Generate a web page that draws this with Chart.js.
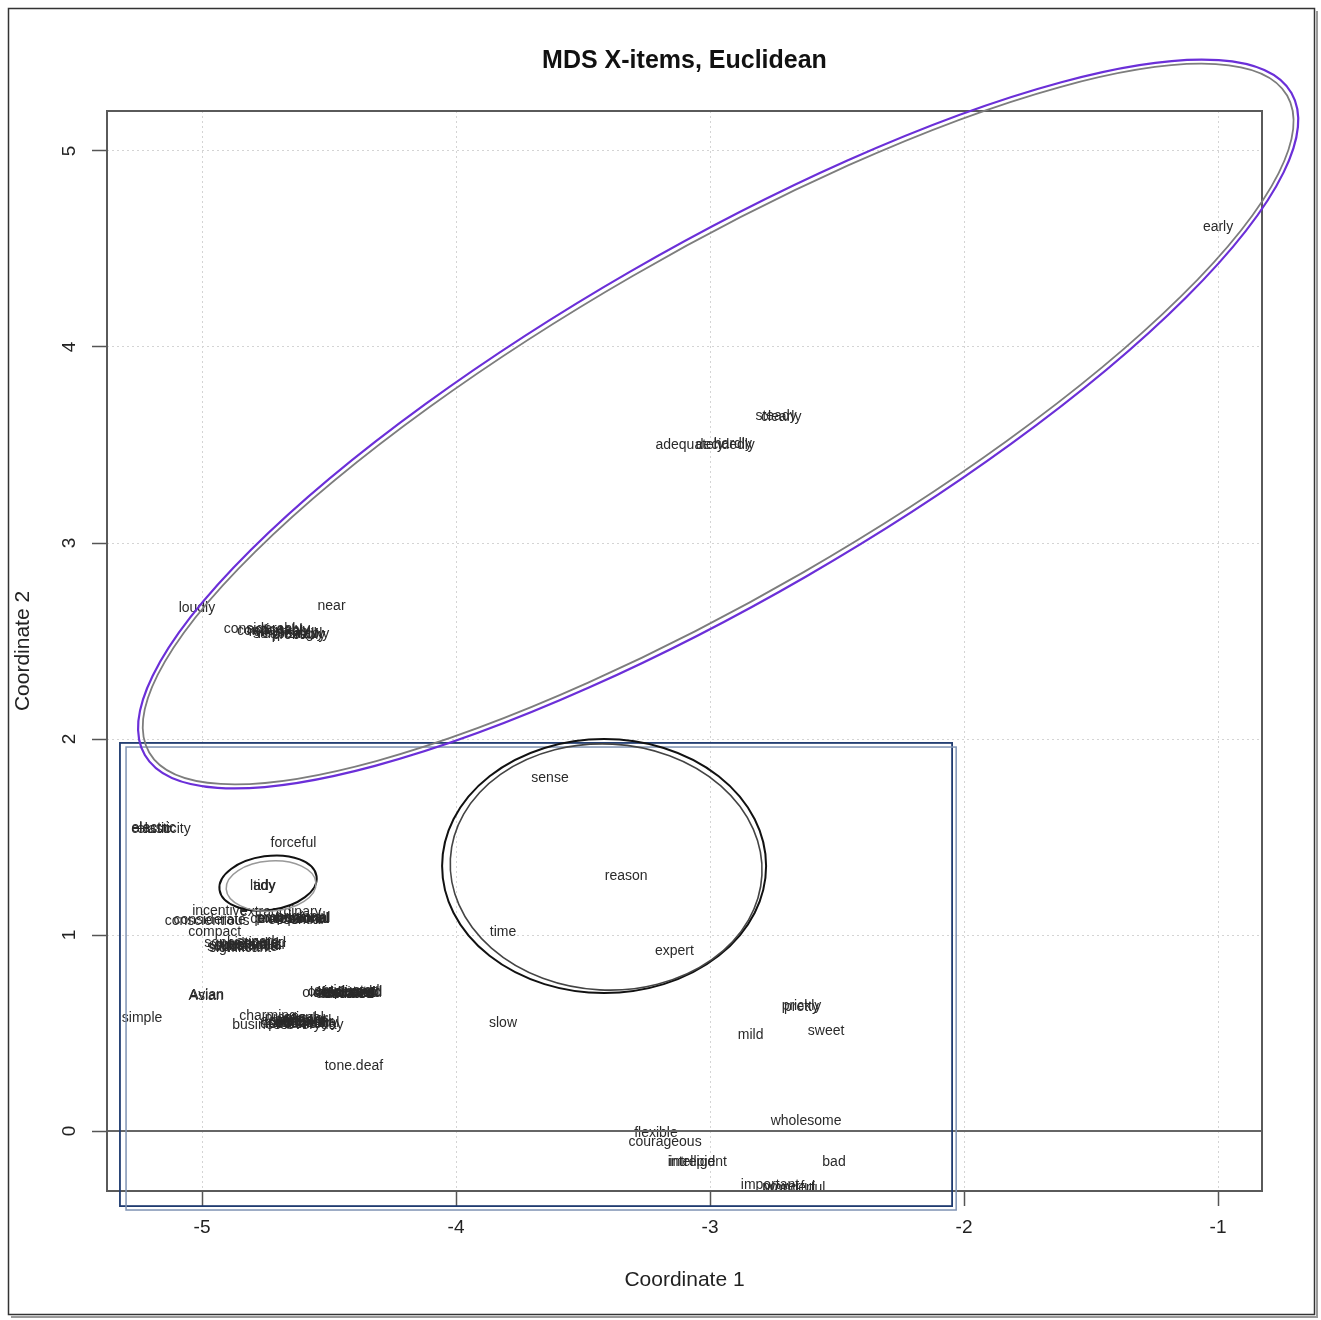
<!DOCTYPE html>
<html>
<head>
<meta charset="utf-8">
<script src="https://cdn.jsdelivr.net/npm/chart.js@4.4.0/dist/chart.umd.min.js"></script>
<style>
  html, body { margin: 0; padding: 0; background: #fff; }
  #wrap { width: 1321px; height: 1320px; }
</style>
</head>
<body>
<div id="wrap"><canvas id="mds"></canvas></div>
<script>
// words and their MDS coordinates
const words = [
  'early', 'clearly', 'steady', 'adequately', 'decidedly', 'hardly',
  'loudly', 'near', 'considerably', 'noticeably', 'surprisingly', 'probably', 'remarkably',
  'comfortably', 'respectably',
  'sense', 'reason', 'time', 'expert', 'slow',
  'elasticity', 'elastic', 'electric', 'forceful', 'lady', 'tidy',
  'incentive', 'conscientious', 'considerate', 'compact',
  'sophisticated', 'significant', 'spectacular', 'superb', 'substantial', 'splendid',
  'stupendous', 'substantive',
  'extraordinary', 'exceptional', 'conventional', 'original', 'unusual', 'essential',
  'proportional', 'professional',
  'Asian', 'Avian', 'oldfashioned', 'complicated', 'dedicated', 'outdated', 'decorated', 'elevated',
  'antiquated', 'sedated', 'educated', 'isolated',
  'simple', 'charming', 'business', 'everyday', 'ordinary', 'practical', 'popular', 'traditional',
  'commercial', 'standard', 'regular', 'domestic', 'economical', 'casual', 'monetary', 'pecuniary',
  'tone.deaf', 'pretty', 'prickly', 'mild', 'sweet', 'wholesome',
  'flexible', 'courageous', 'intelligent', 'intrepid', 'bad', 'important', 'wonderful', 'powerful'
];
const coord1 = [
  -1.00, -2.72, -2.74, -3.08, -2.94, -2.91,
  -5.02, -4.49, -4.76, -4.70, -4.66, -4.62, -4.68,
  -4.72, -4.64,
  -3.63, -3.33, -3.815, -3.14, -3.815,
  -5.15, -5.20, -5.19, -4.64, -4.76, -4.755,
  -4.93, -4.98, -4.97, -4.95,
  -4.83, -4.85, -4.81, -4.78, -4.82, -4.80,
  -4.83, -4.84,
  -4.69, -4.64, -4.655, -4.62, -4.61, -4.63,
  -4.64, -4.645,
  -4.984, -4.982, -4.449, -4.437, -4.425, -4.43, -4.44, -4.42,
  -4.43, -4.42, -4.44, -4.425,
  -5.236, -4.74, -4.772, -4.555, -4.614, -4.65, -4.575, -4.634,
  -4.60, -4.62, -4.59, -4.66, -4.63, -4.60, -4.58, -4.62,
  -4.402, -2.64, -2.64, -2.84, -2.543, -2.622,
  -3.213, -3.177, -3.05, -3.07, -2.512, -2.764, -2.665, -2.69
];
const coord2 = [
  4.61, 3.64, 3.645, 3.50, 3.50, 3.505,
  2.67, 2.68, 2.56, 2.555, 2.535, 2.53, 2.545,
  2.55, 2.535,
  1.80, 1.30, 1.015, 0.92, 0.55,
  1.54, 1.54, 1.545, 1.47, 1.25, 1.25,
  1.12, 1.07, 1.075, 1.015,
  0.96, 0.935, 0.95, 0.965, 0.945, 0.955,
  0.95, 0.94,
  1.117, 1.08, 1.082, 1.09, 1.085, 1.078,
  1.085, 1.08,
  0.689, 0.691, 0.704, 0.709, 0.704, 0.70, 0.706, 0.702,
  0.712, 0.698, 0.70, 0.71,
  0.577, 0.587, 0.541, 0.541, 0.566, 0.577, 0.556, 0.551,
  0.548, 0.562, 0.571, 0.545, 0.56, 0.575, 0.55, 0.545,
  0.332, 0.633, 0.635, 0.49, 0.51, 0.051,
  -0.01, -0.056, -0.158, -0.158, -0.158, -0.276, -0.29, -0.285
];
const xTicks = [-5, -4, -3, -2, -1];
const yTicks = [0, 1, 2, 3, 4, 5];

// hand-drawn markings on top of the plot (centre in data units, radii in px)
const loops = [
  { cx: -2.968, cy: 3.607, rx: 662, ry: 176, rot: -30, color: '#6b2fd8', width: 2.2 },
  { cx: -2.968, cy: 3.607, rx: 657, ry: 171, rot: -30, color: '#7d7d7d', width: 1.8 },
  { cx: -4.740, cy: 1.265, rx: 49, ry: 27, rot: -8, color: '#111', width: 2 },
  { cx: -4.728, cy: 1.250, rx: 45, ry: 25, rot: -4, color: '#999', width: 1.5 },
  { cx: -3.417, cy: 1.352, rx: 162, ry: 127, rot: 0, color: '#111', width: 2 },
  { cx: -3.409, cy: 1.347, rx: 156, ry: 123, rot: 3, color: '#444', width: 1.6 }
];
const boxes = [
  { x0: -5.323, y0: 1.980, x1: -2.047, y1: -0.383, color: '#1f3b70', width: 1.8 },
  { x0: -5.299, y0: 1.959, x1: -2.031, y1: -0.403, color: '#7f93b3', width: 1.5 }
];

const FONT = '"Liberation Sans", Arial, sans-serif';

const labelPlugin = {
  id: 'mdsLabels',
  afterDatasetsDraw(chart) {
    const { ctx, chartArea } = chart;
    const meta = chart.getDatasetMeta(0);
    ctx.save();
    ctx.beginPath();
    ctx.rect(chartArea.left, chartArea.top, chartArea.right - chartArea.left, chartArea.bottom - chartArea.top);
    ctx.clip();
    ctx.font = '14px ' + FONT;
    ctx.fillStyle = '#2a2a2a';
    ctx.textAlign = 'center';
    ctx.textBaseline = 'middle';
    meta.data.forEach((pt, i) => ctx.fillText(words[i], pt.x, pt.y));
    ctx.restore();
  }
};

const framePlugin = {
  id: 'frame',
  afterDraw(chart) {
    const { ctx, chartArea: ca, scales: { x, y } } = chart;
    ctx.save();

    // abline(h = 0)
    const y0 = y.getPixelForValue(0);
    ctx.strokeStyle = '#666';
    ctx.lineWidth = 2;
    ctx.beginPath();
    ctx.moveTo(ca.left, y0);
    ctx.lineTo(ca.right, y0);
    ctx.stroke();

    // plot box
    ctx.strokeStyle = '#5a5a5a';
    ctx.lineWidth = 2;
    ctx.strokeRect(ca.left, ca.top, ca.right - ca.left, ca.bottom - ca.top);

    // y tick labels, parallel to the axis
    ctx.fillStyle = '#222';
    ctx.font = '19px ' + FONT;
    ctx.textAlign = 'center';
    ctx.textBaseline = 'middle';
    yTicks.forEach(v => {
      ctx.save();
      ctx.translate(70, y.getPixelForValue(v));
      ctx.rotate(-Math.PI / 2);
      ctx.fillText(String(v), 0, 0);
      ctx.restore();
    });

    // title
    ctx.font = 'bold 25px ' + FONT;
    ctx.fillStyle = '#111';
    ctx.fillText('MDS X-items, Euclidean', (ca.left + ca.right) / 2, 61);

    // markings
    boxes.forEach(b => {
      const px0 = x.getPixelForValue(b.x0), py0 = y.getPixelForValue(b.y0);
      const px1 = x.getPixelForValue(b.x1), py1 = y.getPixelForValue(b.y1);
      ctx.strokeStyle = b.color;
      ctx.lineWidth = b.width;
      ctx.strokeRect(px0, py0, px1 - px0, py1 - py0);
    });
    loops.forEach(l => {
      ctx.strokeStyle = l.color;
      ctx.lineWidth = l.width;
      ctx.beginPath();
      ctx.ellipse(x.getPixelForValue(l.cx), y.getPixelForValue(l.cy), l.rx, l.ry, l.rot * Math.PI / 180, 0, Math.PI * 2);
      ctx.stroke();
    });

    // outer picture frame with a little shadow
    ctx.strokeStyle = '#9a9a9a';
    ctx.lineWidth = 2;
    ctx.beginPath();
    ctx.moveTo(1317, 11);
    ctx.lineTo(1317, 1317);
    ctx.lineTo(11, 1317);
    ctx.stroke();
    ctx.strokeStyle = '#333';
    ctx.lineWidth = 1.5;
    ctx.strokeRect(8.5, 8.5, 1306, 1306);
    ctx.restore();
  }
};

new Chart(document.getElementById('mds'), {
  type: 'scatter',
  data: {
    datasets: [{
      data: words.map((w, i) => ({ x: coord1[i], y: coord2[i] })),
      pointRadius: 0,
      pointHoverRadius: 0
    }]
  },
  options: {
    responsive: true,
    maintainAspectRatio: false,
    animation: false,
    devicePixelRatio: 1,
    layout: { padding: { top: 111, right: 59, bottom: 0, left: 0 } },
    plugins: {
      legend: { display: false },
      tooltip: { enabled: false }
    },
    scales: {
      x: {
        type: 'linear',
        min: -5.374,
        max: -0.827,
        afterBuildTicks: s => { s.ticks = xTicks.map(v => ({ value: v })); },
        afterFit: s => { s.height = 129; },
        grid: { color: '#d4d4d4', lineWidth: 1, tickLength: 15, tickColor: '#555', tickWidth: 1.5 },
        border: { display: false, dash: [2, 3] },
        ticks: { color: '#222', font: { size: 19, family: FONT }, padding: 10, maxRotation: 0, autoSkip: false },
        title: { display: true, text: 'Coordinate 1', color: '#222', font: { size: 21, family: FONT }, padding: { top: 0, bottom: 27 } }
      },
      y: {
        type: 'linear',
        min: -0.306,
        max: 5.204,
        afterBuildTicks: s => { s.ticks = yTicks.map(v => ({ value: v })); },
        afterFit: s => { s.width = 107; },
        grid: { color: '#d4d4d4', lineWidth: 1, tickLength: 15, tickColor: '#555', tickWidth: 1.5 },
        border: { display: false, dash: [2, 3] },
        ticks: { display: false },
        title: { display: true, text: 'Coordinate 2', color: '#222', font: { size: 21, family: FONT }, padding: { top: 11, bottom: 0 } }
      }
    }
  },
  plugins: [labelPlugin, framePlugin]
});
</script>
</body>
</html>
